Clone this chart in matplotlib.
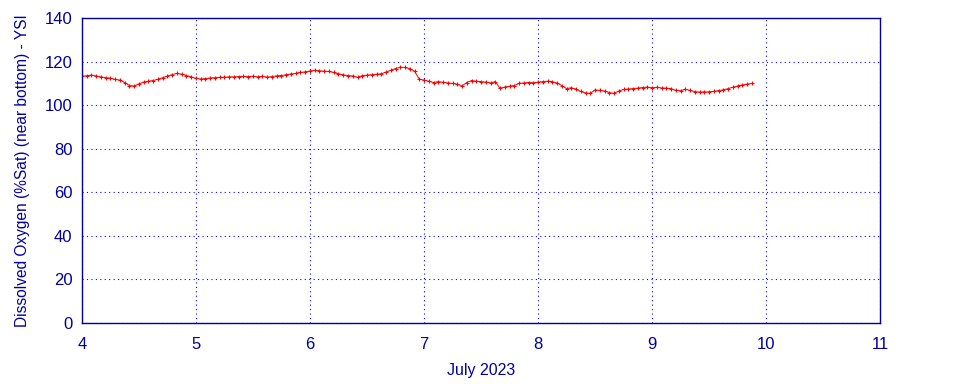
import numpy as np
import matplotlib
matplotlib.use('Agg')
import matplotlib.pyplot as plt

plt.rcParams['font.family'] = ['Liberation Sans', 'DejaVu Sans']

# hourly readings, day of July 2023 (start 4.0, step 1/24 day)
start_day = 4.0
do_sat = [
    # July 4
    113.3, 113.5, 113.8, 113.4, 113.0, 112.6, 112.4, 111.8, 111.5, 110.4, 109.0, 108.8,
    109.8, 110.6, 111.0, 111.3, 111.9, 112.6, 113.4, 114.0, 114.6, 114.2, 113.6, 113.0,
    # July 5
    112.3, 112.0, 112.2, 112.5, 112.6, 112.8, 112.8, 113.0, 113.0, 113.1, 113.2, 113.1,
    113.3, 113.0, 113.2, 112.9, 113.1, 113.5, 113.6, 114.0, 114.3, 114.6, 115.0, 115.3,
    # July 6
    115.7, 116.0, 115.8, 115.6, 115.5, 115.0, 114.4, 113.9, 113.6, 113.4, 112.8, 113.5,
    113.8, 114.0, 114.2, 114.4, 115.2, 116.0, 116.8, 117.4, 117.3, 116.8, 115.6, 112.0,
    # July 7
    111.5, 111.0, 110.4, 110.8, 110.5, 110.2, 110.0, 109.6, 108.8, 110.4, 111.3, 111.0,
    110.8, 110.6, 110.2, 110.8, 107.8, 108.3, 108.7, 109.0, 110.0, 110.2, 110.4, 110.3,
    # July 8
    110.6, 110.8, 111.0, 110.8, 110.2, 109.0, 107.6, 108.0, 107.4, 106.3, 105.6, 105.4,
    107.0, 106.8, 106.5, 105.8, 105.4, 106.5, 107.2, 107.4, 107.6, 107.8, 108.1, 108.3,
    # July 9
    108.0, 108.2, 107.9, 107.8, 107.6, 106.8, 106.6, 107.3, 106.8, 106.2, 106.0, 106.1,
    106.1, 106.3, 106.7, 107.0, 107.6, 108.2, 108.8, 109.3, 109.6, 110.0,
]
days = start_day + np.arange(len(do_sat)) / 24.0

x_ticks = [4, 5, 6, 7, 8, 9, 10, 11]
y_ticks = [0, 20, 40, 60, 80, 100, 120, 140]

navy = '#0000a0'

fig = plt.figure(figsize=(9.6, 3.84), dpi=100)
ax = fig.add_axes([0.0854, 0.159, 0.8313, 0.794])

ax.plot(days, do_sat, color='red', linewidth=0.7, marker='+',
        markersize=3, markeredgewidth=0.8)

ax.set_xlim(4, 11)
ax.set_ylim(0, 140)
ax.set_xticks(x_ticks)
ax.set_yticks(y_ticks)
ax.grid(True, color='#0000ff', linestyle=(0, (1, 3)), linewidth=0.8)
ax.tick_params(length=0, labelsize=12, labelcolor=navy)
ax.tick_params(axis='x', pad=10)
ax.tick_params(axis='y', pad=7)
for sp in ax.spines.values():
    sp.set_color(navy)
    sp.set_linewidth(1.0)

ax.set_xlabel('July 2023', color=navy, fontsize=11.5, labelpad=8)
ax.set_ylabel('Dissolved Oxygen (%Sat) (near bottom) - YSI', color=navy,
              fontsize=11.2, labelpad=10)

fig.savefig('out.png', dpi=100)
plt.close(fig)
